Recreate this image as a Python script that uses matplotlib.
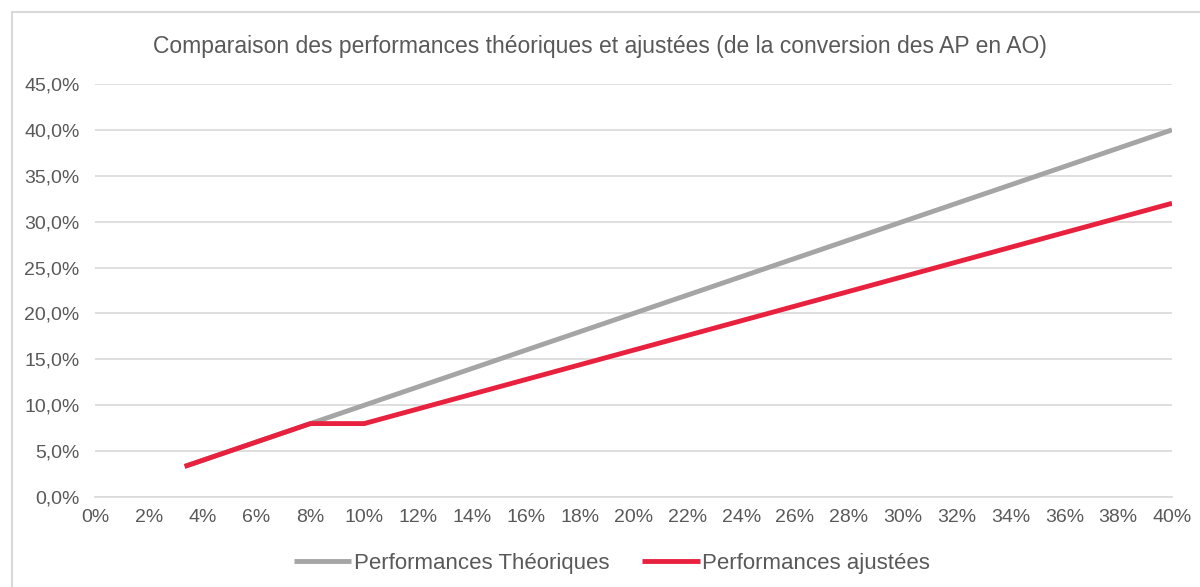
import matplotlib.pyplot as plt
from matplotlib.patches import Rectangle
from matplotlib.ticker import FuncFormatter, MultipleLocator

# --- DATA ---
ap_rate = [0.0333, 0.08, 0.10, 0.40]
perf_theoriques = [0.0333, 0.08, 0.10, 0.40]
perf_ajustees = [0.0333, 0.08, 0.08, 0.32]

title = "Comparaison des performances théoriques et ajustées (de la conversion des AP en AO)"
labels = ["Performances Théoriques", "Performances ajustées"]

GRAY_TXT = '#595959'
plt.rcParams['font.family'] = ['Liberation Sans', 'DejaVu Sans']

fig = plt.figure(figsize=(12, 5.87), dpi=100)
# chart border (Excel-style frame)
fig.patches.append(Rectangle((12 / 1200, -0.1), 1.2, 1 - 12 / 587 + 0.1,
                             transform=fig.transFigure, fill=False,
                             edgecolor='#d9d9d9', lw=1.5))

ax = fig.add_axes([95 / 1200, 1 - 497 / 587, (1172 - 95) / 1200, (497 - 84) / 587])
ax.plot(ap_rate, perf_theoriques, color='#a5a5a5', lw=3.5, label=labels[0], solid_capstyle='butt')
ax.plot(ap_rate, perf_ajustees, color='#e8213f', lw=3.5, label=labels[1], solid_capstyle='butt')

ax.set_xlim(0, 0.40)
ax.set_ylim(0, 0.45)
ax.xaxis.set_major_locator(MultipleLocator(0.02))
ax.yaxis.set_major_locator(MultipleLocator(0.05))
ax.xaxis.set_major_formatter(FuncFormatter(lambda v, p: f"{v * 100:.0f}%"))
ax.yaxis.set_major_formatter(FuncFormatter(lambda v, p: f"{v * 100:.1f}%".replace('.', ',')))

ax.grid(axis='y', color='#d9d9d9', lw=1.2)
ax.set_axisbelow(True)
for s in ['top', 'right', 'left']:
    ax.spines[s].set_visible(False)
ax.spines['bottom'].set_color('#d9d9d9')
ax.spines['bottom'].set_linewidth(1.2)
ax.tick_params(length=0, labelsize=14, colors=GRAY_TXT)
ax.tick_params(axis='y', pad=11)
ax.tick_params(axis='x', pad=9)

fig.text(0.5, 1 - 47 / 587, title, ha='center', va='center', fontsize=16.5, color=GRAY_TXT)

leg = fig.legend(loc='center', bbox_to_anchor=(0.51, 1 - 563 / 587), ncol=2, frameon=False,
                 fontsize=16, handlelength=2.6, handletextpad=0.1, columnspacing=1.5)
for t in leg.get_texts():
    t.set_color(GRAY_TXT)

fig.savefig('out.png', dpi=100)
